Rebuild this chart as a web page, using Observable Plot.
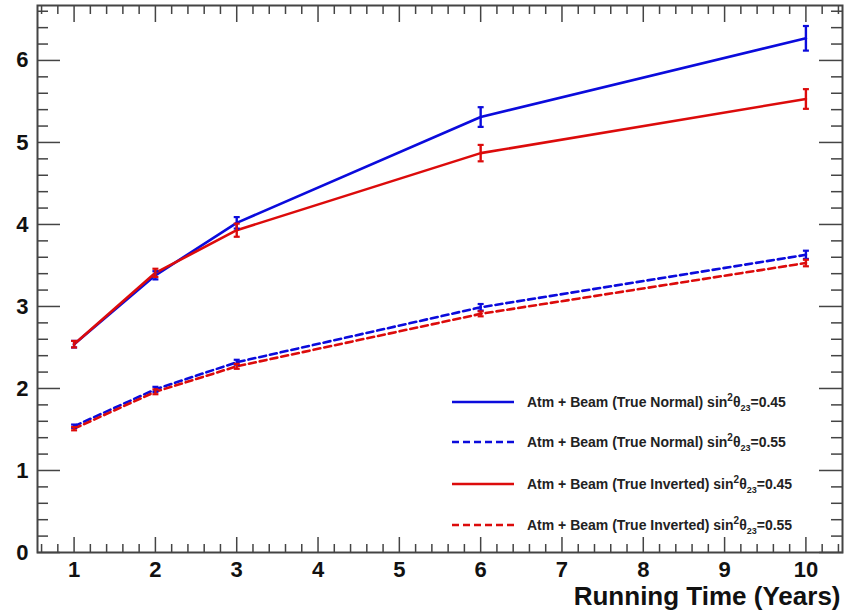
<!DOCTYPE html>
<html>
<head>
<meta charset="utf-8">
<script src="https://cdn.jsdelivr.net/npm/d3@7"></script>
<script src="https://cdn.jsdelivr.net/npm/@observablehq/plot@0.6"></script>
<style>
  body { margin: 0; background: #fff; }
  #wrap { position: relative; width: 847px; height: 613px; font-family: "Liberation Sans", Arial, sans-serif; }
  #wrap > svg { position: absolute; left: 0; top: 0; }
  #wrap .leg { position: absolute; left: 452px; height: 20px; display: flex; align-items: center; font-weight: 700; font-size: 14px; color: #222; white-space: nowrap; }
  #wrap .leg svg { position: static; margin-right: 13px; flex: none; }
  .sup { font-size: 10px; position: relative; top: -5px; margin-left: 0px; }
  .sub { font-size: 9px; position: relative; top: 6px; }
</style>
</head>
<body>
<div id="wrap"></div>
<script>
// ---- data ----
const years = [1, 2, 3, 6, 10];

const normal045 = [2.54, 3.38, 4.02, 5.31, 6.27];
const normal045Err = [0.04, 0.05, 0.07, 0.12, 0.15];

const normal055 = [1.54, 1.99, 2.32, 2.99, 3.63];
const normal055Err = [0.02, 0.03, 0.03, 0.04, 0.05];

const inverted045 = [2.54, 3.41, 3.93, 4.87, 5.53];
const inverted045Err = [0.04, 0.05, 0.08, 0.10, 0.12];

const inverted055 = [1.51, 1.96, 2.27, 2.91, 3.53];
const inverted055Err = [0.02, 0.03, 0.03, 0.03, 0.04];

const seriesNames = [
  "Atm + Beam (True Normal) sin",
  "Atm + Beam (True Normal) sin",
  "Atm + Beam (True Inverted) sin",
  "Atm + Beam (True Inverted) sin"
];
const seriesTheta = ["0.45", "0.55", "0.45", "0.55"];
const seriesColors = ["#0b0bdc", "#0b0bdc", "#dc0b0b", "#dc0b0b"];
const seriesDashed = [false, true, false, true];
const seriesValues = [normal045, normal055, inverted045, inverted055];
const seriesErrors = [normal045Err, normal055Err, inverted045Err, inverted055Err];

const xTickLabels = [1, 2, 3, 4, 5, 6, 7, 8, 9, 10];
const yTickLabels = [0, 1, 2, 3, 4, 5, 6];
const xTitle = "Running Time (Years)";

// ---- build table ----
const series = seriesValues.map((vals, i) => ({
  color: seriesColors[i],
  dashed: seriesDashed[i],
  points: years.map((x, j) => ({x, y: vals[j], e: seriesErrors[i][j], s: i}))
}));

const xMinor = d3.range(0.6, 10.45, 0.2).filter(v => Math.abs(v - Math.round(v)) > 1e-6);
const yMinor = d3.range(0.2, 6.67, 0.2).filter(v => Math.abs(v - Math.round(v)) > 1e-6);

const cap = { draw(ctx) { ctx.moveTo(-3, 0); ctx.lineTo(3, 0); } };
const axisColor = "#444";
const tickOpts = {text: null, label: null, stroke: axisColor, strokeWidth: 1.5};

const marks = [];
// ticks (inward, ROOT style)
marks.push(Plot.axisX({anchor: "bottom", ticks: xMinor, tickSize: -8, ...tickOpts}));
marks.push(Plot.axisX({anchor: "bottom", ticks: xTickLabels, tickSize: -15, ...tickOpts}));
marks.push(Plot.axisX({anchor: "top", ticks: xMinor, tickSize: -8, ...tickOpts}));
marks.push(Plot.axisX({anchor: "top", ticks: xTickLabels, tickSize: -16, ...tickOpts}));
marks.push(Plot.axisY({anchor: "left", ticks: yMinor, tickSize: -11, ...tickOpts}));
marks.push(Plot.axisY({anchor: "left", ticks: yTickLabels, tickSize: -23, ...tickOpts}));
marks.push(Plot.axisY({anchor: "right", ticks: yMinor, tickSize: -12, ...tickOpts}));
marks.push(Plot.axisY({anchor: "right", ticks: yTickLabels, tickSize: -24, ...tickOpts}));
// tick labels
marks.push(Plot.axisX({anchor: "bottom", ticks: xTickLabels, tickSize: 0, tickPadding: 9, label: null,
  fontSize: 22, fontWeight: "bold", fill: "#111", tickFormat: d => String(d)}));
marks.push(Plot.axisY({anchor: "left", ticks: yTickLabels, tickSize: 0, tickPadding: 9, label: null,
  fontSize: 22, fontWeight: "bold", fill: "#111", tickFormat: d => String(d)}));
marks.push(Plot.frame({stroke: axisColor, strokeWidth: 2}));

// data
for (const s of series) {
  marks.push(Plot.line(s.points, {x: "x", y: "y", stroke: s.color, strokeWidth: 2.6,
    strokeDasharray: s.dashed ? "7,4" : null}));
}
for (const s of series) {
  marks.push(Plot.ruleX(s.points, {x: "x", y1: d => d.y - d.e, y2: d => d.y + d.e, stroke: s.color, strokeWidth: 2.4}));
  marks.push(Plot.dot(s.points, {x: "x", y: d => d.y - d.e, symbol: cap, stroke: s.color, strokeWidth: 2.2, fill: "none"}));
  marks.push(Plot.dot(s.points, {x: "x", y: d => d.y + d.e, symbol: cap, stroke: s.color, strokeWidth: 2.2, fill: "none"}));
}
// axis title
marks.push(Plot.text([xTitle], {text: d => d, frameAnchor: "bottom-right", textAnchor: "end", lineAnchor: "top",
  dy: 34, dx: -2, fontSize: 26, fontWeight: "bold", fill: "#111"}));

const chart = Plot.plot({
  width: 847,
  height: 613,
  marginLeft: 37,
  marginRight: 5,
  marginTop: 5,
  marginBottom: 61,
  style: {fontFamily: "'Liberation Sans', Arial, sans-serif", background: "#fff", overflow: "visible"},
  x: {domain: [0.55, 10.45]},
  y: {domain: [0, 6.67]},
  marks
});

const wrap = document.getElementById("wrap");
wrap.appendChild(chart);

// legend (inside the frame, as in the reference)
const legendTops = [392, 432, 474, 515];
series.forEach((s, i) => {
  const row = document.createElement("div");
  row.className = "leg";
  row.style.top = legendTops[i] + "px";
  row.innerHTML =
    `<svg width="62" height="6"><line x1="0" x2="62" y1="3" y2="3" stroke="${s.color}" stroke-width="2.6" ${s.dashed ? 'stroke-dasharray="7,4"' : ""}/></svg>` +
    `<span>${seriesNames[i]}</span><span class="sup">2</span><span>θ</span><span class="sub">23</span><span>=${seriesTheta[i]}</span>`;
  wrap.appendChild(row);
});
</script>
</body>
</html>
